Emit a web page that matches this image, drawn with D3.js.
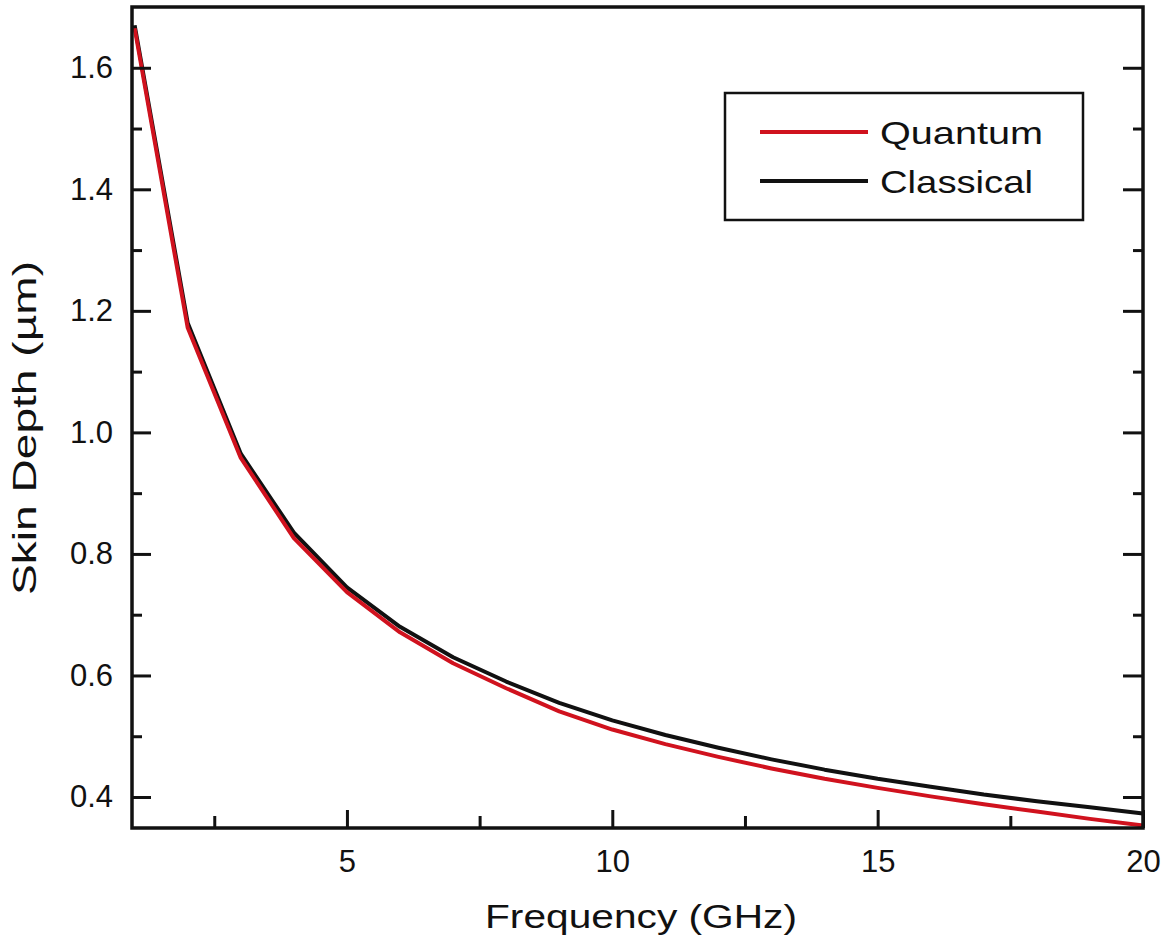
<!DOCTYPE html>
<html><head><meta charset="utf-8">
<script src="https://cdn.jsdelivr.net/npm/d3@7"></script>
<style>html,body{margin:0;padding:0;background:#fff;} svg{display:block;} text{font-family:"Liberation Sans",Arial,sans-serif;fill:#111;}</style>
</head><body>
<svg id="chart" width="1171" height="949"></svg>
<script>
const frequency = [1,2,3,4,5,6,7,8,9,10,11,12,13,14,15,16,17,18,19,20];
const classical = [1.670,1.180,0.965,0.835,0.745,0.680,0.630,0.590,0.555,0.526,0.502,0.481,0.462,0.445,0.430,0.417,0.404,0.393,0.383,0.373];
const quantum   = [1.665,1.172,0.958,0.826,0.737,0.671,0.620,0.579,0.541,0.511,0.487,0.466,0.447,0.430,0.415,0.401,0.388,0.376,0.364,0.353];
const xTicks = [5,10,15,20];
const xMinor = [2.5,7.5,12.5,17.5];
const yTicks = [0.4,0.6,0.8,1.0,1.2,1.4,1.6];
const yMinor = [0.5,0.7,0.9,1.1,1.3,1.5];
const seriesNames = ["Quantum","Classical"];
const seriesColors = ["#d0121e","#111111"];

const svg = d3.select("#chart");
const L = 132, R = 1143, T = 7, B = 828;
const x = d3.scaleLinear().domain([0.95,20]).range([L,R]);
const y = d3.scaleLinear().domain([0.349,1.70]).range([B,T]);

const g = svg.append("g");

// curves
const line = d3.line().x((d,i)=>x(frequency[i])).y(d=>y(d));
[classical, quantum].forEach((s,k)=>{
  g.append("path").datum(s).attr("d",line).attr("fill","none")
   .attr("stroke", k===0 ? seriesColors[1] : seriesColors[0])
   .attr("stroke-width",4).attr("stroke-linejoin","round");
});

function styleTicks(sel){
  sel.select(".domain").remove();
  sel.selectAll(".tick line").attr("stroke","#111").attr("stroke-width",3);
  sel.selectAll(".tick text").attr("font-size",31).attr("fill","#111")
     .attr("font-family","Liberation Sans, Arial, sans-serif");
}

// bottom
g.append("g").attr("transform",`translate(0,${B})`)
  .call(d3.axisBottom(x).tickValues(xTicks).tickSize(-18).tickPadding(22).tickFormat(d3.format("d")))
  .call(styleTicks);
g.append("g").attr("transform",`translate(0,${B})`)
  .call(d3.axisBottom(x).tickValues(xMinor).tickSize(-12).tickFormat(""))
  .call(styleTicks);

// left
g.append("g").attr("transform",`translate(${L},0)`)
  .call(d3.axisLeft(y).tickValues(yTicks).tickSize(-19).tickPadding(19).tickFormat(d3.format(".1f")))
  .call(styleTicks);
g.append("g").attr("transform",`translate(${L},0)`)
  .call(d3.axisLeft(y).tickValues(yMinor).tickSize(-10).tickFormat(""))
  .call(styleTicks);

// right
g.append("g").attr("transform",`translate(${R},0)`)
  .call(d3.axisRight(y).tickValues(yTicks).tickSize(-20).tickFormat(""))
  .call(styleTicks);
g.append("g").attr("transform",`translate(${R},0)`)
  .call(d3.axisRight(y).tickValues(yMinor).tickSize(-10).tickFormat(""))
  .call(styleTicks);

// frame
g.append("rect").attr("x",L).attr("y",T).attr("width",R-L).attr("height",B-T)
 .attr("fill","none").attr("stroke","#111").attr("stroke-width",3.5);

// axis titles
svg.append("text").attr("x",641).attr("y",928).attr("text-anchor","middle")
  .attr("font-size",33).attr("textLength",312).attr("lengthAdjust","spacingAndGlyphs")
  .text("Frequency (GHz)");
svg.append("text").attr("transform","translate(36,428) rotate(-90)").attr("text-anchor","middle")
  .attr("font-size",34).attr("textLength",334).attr("lengthAdjust","spacingAndGlyphs")
  .text("Skin Depth (µm)");

// legend
const lg = svg.append("g");
lg.append("rect").attr("x",725).attr("y",93).attr("width",358).attr("height",127)
  .attr("fill","#fff").attr("stroke","#111").attr("stroke-width",2.5);
const legendTextLen = [163,153];
seriesNames.forEach((n,i)=>{
  const yy = 132 + i*49;
  lg.append("line").attr("x1",760).attr("x2",868).attr("y1",yy).attr("y2",yy)
    .attr("stroke",seriesColors[i]).attr("stroke-width",4);
  lg.append("text").attr("x",880).attr("y",yy+12).attr("font-size",32)
    .attr("textLength",legendTextLen[i]).attr("lengthAdjust","spacingAndGlyphs").text(n);
});
</script>
</body></html>
